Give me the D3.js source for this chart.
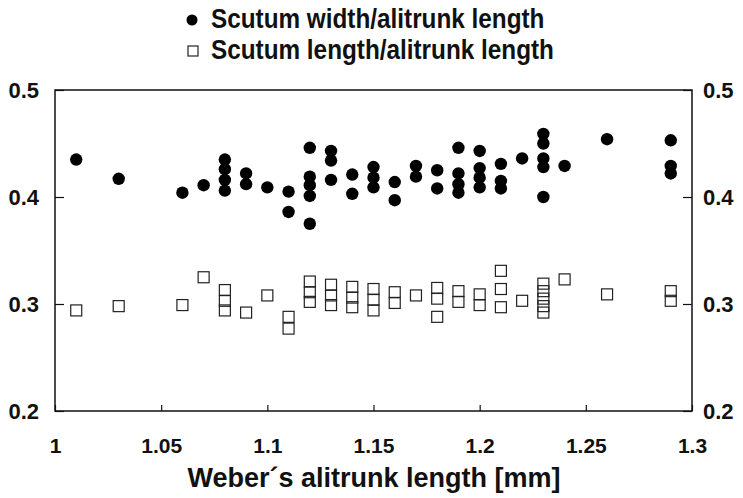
<!DOCTYPE html>
<html>
<head>
<meta charset="utf-8">
<script src="https://cdn.jsdelivr.net/npm/d3@7"></script>
<style>
  body { margin: 0; background: #fff; }
  text { font-family: "Liberation Sans", Arial, sans-serif; font-weight: bold; fill: #111; }
</style>
</head>
<body>
<svg id="chart" width="743" height="498"></svg>
<script>
// Scutum width / alitrunk length (filled circles)
const widthX = [1.01, 1.03, 1.06, 1.07, 1.08, 1.08, 1.08, 1.08, 1.09, 1.09, 1.10, 1.11, 1.11,
    1.12, 1.12, 1.12, 1.12, 1.12, 1.13, 1.13, 1.13, 1.14, 1.14, 1.15, 1.15, 1.15, 1.16, 1.16,
    1.17, 1.17, 1.18, 1.18, 1.19, 1.19, 1.19, 1.19, 1.20, 1.20, 1.20, 1.20, 1.21, 1.21, 1.21,
    1.22, 1.23, 1.23, 1.23, 1.23, 1.23, 1.24, 1.26, 1.29, 1.29, 1.29];
const widthY = [0.435, 0.417, 0.404, 0.411, 0.435, 0.426, 0.416, 0.406, 0.422, 0.412, 0.409, 0.405, 0.386,
    0.446, 0.419, 0.411, 0.401, 0.375, 0.443, 0.434, 0.416, 0.421, 0.403, 0.428, 0.418, 0.409, 0.414, 0.397,
    0.429, 0.419, 0.425, 0.408, 0.446, 0.422, 0.412, 0.404, 0.443, 0.427, 0.418, 0.409, 0.431, 0.415, 0.408,
    0.436, 0.459, 0.450, 0.436, 0.428, 0.400, 0.429, 0.454, 0.453, 0.429, 0.422];

// Scutum length / alitrunk length (open squares)
const lengthX = [1.01, 1.03, 1.06, 1.07, 1.08, 1.08, 1.08, 1.09, 1.10, 1.11, 1.11,
    1.12, 1.12, 1.12, 1.13, 1.13, 1.13, 1.14, 1.14, 1.14, 1.15, 1.15, 1.15, 1.16, 1.16,
    1.17, 1.18, 1.18, 1.18, 1.19, 1.19, 1.20, 1.20, 1.21, 1.21, 1.21, 1.22,
    1.23, 1.23, 1.23, 1.23, 1.23, 1.24, 1.26, 1.29, 1.29];
const lengthY = [0.294, 0.298, 0.299, 0.325, 0.313, 0.303, 0.294, 0.292, 0.308, 0.288, 0.277,
    0.321, 0.311, 0.302, 0.318, 0.308, 0.299, 0.316, 0.306, 0.297, 0.314, 0.304, 0.294, 0.311, 0.301,
    0.308, 0.315, 0.305, 0.288, 0.312, 0.302, 0.309, 0.299, 0.331, 0.314, 0.297, 0.303,
    0.319, 0.312, 0.305, 0.298, 0.292, 0.323, 0.309, 0.312, 0.303];

const xTicks = [1, 1.05, 1.1, 1.15, 1.2, 1.25, 1.3];
const yTicks = [0.2, 0.3, 0.4, 0.5];
const legendLabels = ['Scutum width/alitrunk length', 'Scutum length/alitrunk length'];

const svg = d3.select('#chart');
const plotLeft = 55, plotRight = 692, plotTop = 90, plotBottom = 411;

const x = d3.scaleLinear().domain([1, 1.3]).range([plotLeft, plotRight]);
const y = d3.scaleLinear().domain([0.2, 0.5]).range([plotBottom, plotTop]);

// squeeze text horizontally (the original uses a narrow bold face)
function condense(sel, factor) {
    sel.each(function () {
        const w = this.getComputedTextLength();
        d3.select(this).attr('textLength', w * factor).attr('lengthAdjust', 'spacingAndGlyphs');
    });
}

// frame
svg.append('rect')
    .attr('x', plotLeft).attr('y', plotTop)
    .attr('width', plotRight - plotLeft).attr('height', plotBottom - plotTop)
    .attr('fill', 'none').attr('stroke', '#111').attr('stroke-width', 1.5);

// axes, ticks pointing inwards
const fmt = d => String(d);
const xAxis = svg.append('g')
    .attr('transform', `translate(0,${plotBottom})`)
    .call(d3.axisBottom(x).tickValues(xTicks).tickSize(-6).tickPadding(27).tickFormat(fmt));
const yLeft = svg.append('g')
    .attr('transform', `translate(${plotLeft},0)`)
    .call(d3.axisLeft(y).tickValues(yTicks).tickSize(-9).tickPadding(16).tickFormat(fmt));
const yRight = svg.append('g')
    .attr('transform', `translate(${plotRight},0)`)
    .call(d3.axisRight(y).tickValues(yTicks).tickSize(-9).tickPadding(11).tickFormat(fmt));

[xAxis, yLeft, yRight].forEach(g => {
    g.select('.domain').remove();
    g.selectAll('line').attr('stroke', '#111').attr('stroke-width', 1.2);
    g.selectAll('text').style('font-family', null).attr('fill', '#111');
});
xAxis.selectAll('text').attr('font-size', 21);
yLeft.selectAll('text').attr('font-size', 22);
yRight.selectAll('text').attr('font-size', 22);

// x axis title
svg.append('text')
    .attr('x', 374).attr('y', 487)
    .attr('text-anchor', 'middle')
    .attr('font-size', 27)
    .text('Weber\u00b4s alitrunk length [mm]');

// data points
svg.append('g').selectAll('rect')
    .data(lengthX)
    .join('rect')
    .attr('x', (d, i) => x(d) - 5.5)
    .attr('y', (d, i) => y(lengthY[i]) - 5.5)
    .attr('width', 11).attr('height', 11)
    .attr('fill', 'none').attr('stroke', '#222').attr('stroke-width', 1.2);

svg.append('g').selectAll('circle')
    .data(widthX)
    .join('circle')
    .attr('cx', d => x(d))
    .attr('cy', (d, i) => y(widthY[i]))
    .attr('r', 6.2)
    .attr('fill', '#000');

// legend
svg.append('circle').attr('cx', 192).attr('cy', 20).attr('r', 5.5).attr('fill', '#000');
svg.append('rect').attr('x', 188).attr('y', 46).attr('width', 10).attr('height', 10)
    .attr('fill', 'none').attr('stroke', '#222').attr('stroke-width', 1.2);
svg.selectAll('.legend-label')
    .data(legendLabels)
    .join('text')
    .attr('class', 'legend-label')
    .attr('x', 211)
    .attr('y', (d, i) => 28 + i * 31)
    .attr('font-size', 27)
    .text(d => d)
    .call(condense, 0.9);
</script>
</body>
</html>
